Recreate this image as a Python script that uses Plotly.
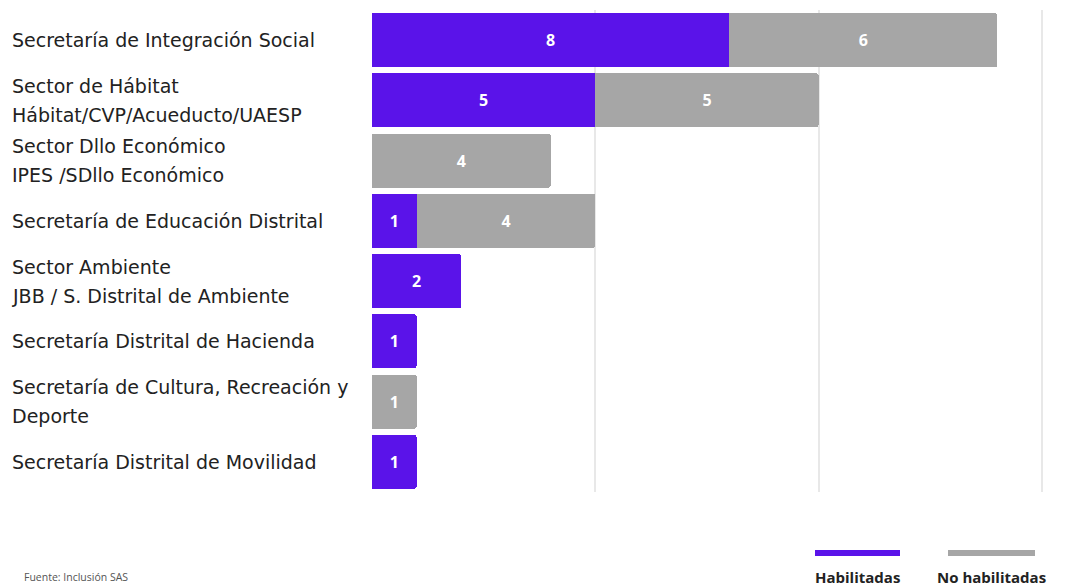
import plotly.graph_objects as go

categories = [
    "Secretaría de Integración Social",
    "Sector de Hábitat<br>Hábitat/CVP/Acueducto/UAESP",
    "Sector Dllo Económico<br>IPES /SDllo Económico",
    "Secretaría de Educación Distrital",
    "Sector Ambiente<br>JBB / S. Distrital de Ambiente",
    "Secretaría Distrital de Hacienda",
    "Secretaría de Cultura, Recreación y<br>Deporte",
    "Secretaría Distrital de Movilidad",
]
habilitadas = [8, 5, 0, 1, 2, 1, 0, 1]
no_habilitadas = [6, 5, 4, 4, 0, 0, 1, 0]
series_names = ["Habilitadas", "No habilitadas"]
x_ticks = [0, 5, 10, 15]

PURPLE = "#5A13E9"
GREY = "#A6A6A6"
W, H = 1069, 586
L, R, T, B = 372, 22, 10, 94
X_MAX = 15.112

fig = go.Figure()
for name, vals, col in [(series_names[0], habilitadas, PURPLE), (series_names[1], no_habilitadas, GREY)]:
    fig.add_trace(go.Bar(
        y=categories, x=vals, orientation="h", name=name,
        marker=dict(color=col, line=dict(width=0)),
        text=[str(v) if v else "" for v in vals],
        textposition="inside", insidetextanchor="middle",
        textfont=dict(family="Open Sans", size=16, color="white", weight="bold"),
        showlegend=False, hoverinfo="skip",
    ))

fig.update_layout(
    width=W, height=H, barmode="stack", bargap=0.1, barcornerradius=3,
    margin=dict(l=L, r=R, t=T, b=B),
    paper_bgcolor="white", plot_bgcolor="white",
    font=dict(family="Open Sans, sans-serif", color="#222"),
    xaxis=dict(range=[0, X_MAX], tickvals=x_ticks, showticklabels=False,
               showgrid=True, gridcolor="#E8E8E8", gridwidth=1.5, zeroline=False,
               showline=False, fixedrange=True),
    yaxis=dict(autorange="reversed", showticklabels=False, showgrid=False,
               zeroline=False, showline=False),
)

plot_w = W - L - R
x_label = (10 - L) / plot_w
for cat in categories:
    lines = cat.split("<br>")
    n = len(lines)
    for i, ln in enumerate(lines):
        shift = (i - (n - 1) / 2) * -29
        fig.add_annotation(x=x_label, xref="paper", y=cat, yref="y", text=ln,
                           showarrow=False, xanchor="left", yanchor="middle",
                           yshift=shift, font=dict(family="DejaVu Sans", size=19, color="#222"))

# legend
def px(xp):
    return (xp - L) / plot_w
def py(yp):
    return 1 - (yp - T) / (H - T - B)

for (x0, x1), col, name in [((815, 900), PURPLE, series_names[0]), ((948, 1035), GREY, series_names[1])]:
    fig.add_shape(type="line", xref="paper", yref="paper", x0=px(x0), x1=px(x1),
                  y0=py(553), y1=py(553), line=dict(color=col, width=6))
    fig.add_annotation(xref="paper", yref="paper", x=px((x0 + x1) / 2), y=py(577),
                       text=name, showarrow=False, xanchor="center", yanchor="middle",
                       font=dict(family="Open Sans", size=15, color="#222", weight="bold"))

fig.add_annotation(xref="paper", yref="paper", x=px(22), y=py(577), text="Fuente: Inclusión SAS",
                   showarrow=False, xanchor="left", yanchor="middle",
                   font=dict(family="Open Sans", size=10.5, color="#555"))

fig.write_html("out.html")
